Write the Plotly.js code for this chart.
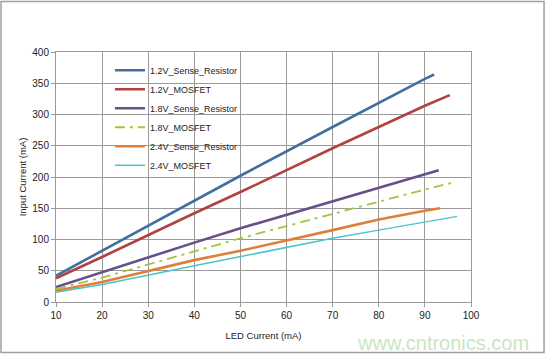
<!DOCTYPE html>
<html>
<head>
<meta charset="utf-8">
<script src="https://cdn.plot.ly/plotly-3.0.1.min.js"></script>
<style>html,body{margin:0;padding:0;background:#fff}#chart{width:550px;height:356px}</style>
</head>
<body>
<div id="chart"></div>
<script>
// Data
var seriesNames = ["1.2V_Sense_Resistor", "1.2V_MOSFET", "1.8V_Sense_Resistor", "1.8V_MOSFET", "2.4V_Sense_Resistor", "2.4V_MOSFET"];

var x12S = [10, 20, 40, 50, 70, 80, 90, 92];
var y12S = [42, 82, 162, 202, 280, 319, 357, 364];

var x12M = [10, 20, 40, 50, 70, 80, 90, 95.4];
var y12M = [38, 72, 142, 176, 246, 280, 314, 331];

var x18S = [10, 20, 40, 50, 70, 80, 90, 93];
var y18S = [24, 48, 95, 118, 161, 183, 205, 211];

var x18M = [10, 20, 40, 50, 70, 80, 90, 96.6];
var y18M = [21, 39, 81, 102, 141, 161, 180, 192];

var x24S = [10, 20, 40, 50, 70, 80, 90, 93.3];
var y24S = [18, 32, 67, 82, 115, 132, 146, 150];

var x24M = [10, 20, 40, 50, 70, 80, 90, 97];
var y24M = [15.5, 28, 58, 72.5, 102, 115, 128, 137];

var xTicks = [10, 20, 30, 40, 50, 60, 70, 80, 90, 100];
var yTicks = [0, 50, 100, 150, 200, 250, 300, 350, 400];

var colors = ["#41709f", "#b0423f", "#674f8c", "#a3c43f", "#e07f3a", "#4cc3cc"];
var widths = [2.6, 2.6, 2.6, 1.8, 2.6, 1.5];
var dashes = ["solid", "solid", "solid", "10px,5px,3px,5px", "solid", "solid"];

var xs = [x12S, x12M, x18S, x18M, x24S, x24M];
var ys = [y12S, y12M, y18S, y18M, y24S, y24M];

var traces = seriesNames.map(function (n, i) {
  return {
    x: xs[i], y: ys[i], name: n, type: "scatter", mode: "lines",
    line: {color: colors[i], width: widths[i], dash: dashes[i]}
  };
});

var gridCol = "#9a9a9a";
var layout = {
  width: 550, height: 356,
  margin: {l: 56, r: 79, t: 52, b: 54},
  paper_bgcolor: "#ffffff", plot_bgcolor: "#ffffff",
  font: {family: "Liberation Sans, Arial, sans-serif", size: 10, color: "#222"},
  showlegend: true,
  legend: {
    x: 0.13, y: 0.985, xanchor: "left", yanchor: "top",
    bgcolor: "rgba(255,255,255,0)", borderwidth: 0,
    font: {size: 9, color: "#222"}, tracegroupgap: 0
  },
  xaxis: {
    range: [10, 100], tickvals: xTicks, ticktext: xTicks.map(String),
    showgrid: true, gridcolor: gridCol, gridwidth: 1,
    showline: true, linecolor: gridCol, mirror: true,
    ticks: "outside", ticklen: 4, tickcolor: gridCol,
    zeroline: false, tickfont: {size: 10},
    title: {text: "LED Current (mA)", font: {size: 9.5}, standoff: 12}
  },
  yaxis: {
    range: [0, 400], tickvals: yTicks, ticktext: yTicks.map(String),
    showgrid: true, gridcolor: gridCol, gridwidth: 1,
    showline: true, linecolor: gridCol, mirror: true,
    ticks: "outside", ticklen: 4, tickcolor: gridCol,
    zeroline: false, tickfont: {size: 10},
    title: {text: "Input Current (mA)", font: {size: 9.5}, standoff: 3}
  },
  shapes: [{
    type: "rect", xref: "paper", yref: "paper",
    x0: -0.1325, x1: 1.176, y0: -0.202, y1: 1.202,
    line: {color: "#a0a0a0", width: 1.5}, fillcolor: "rgba(0,0,0,0)", layer: "below"
  }],
  annotations: [{
    text: "www.cntronics.com", xref: "paper", yref: "paper",
    x: 1.145, y: -0.165, xanchor: "right", yanchor: "middle", showarrow: false,
    font: {family: "Liberation Sans, Arial, sans-serif", size: 20, color: "#c9e6c2"}
  }]
};

Plotly.newPlot("chart", traces, layout, {displayModeBar: false, staticPlot: true});
</script>
</body>
</html>
